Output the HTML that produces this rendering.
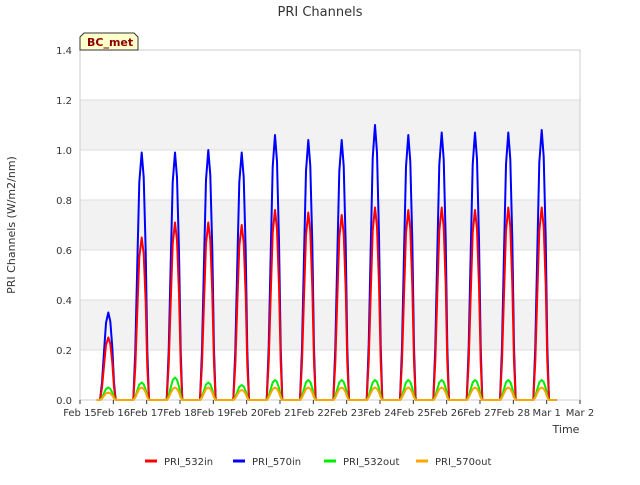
<!DOCTYPE html>
<html><head><meta charset="utf-8"><style>
body{margin:0;background:#fff;font-family:"Liberation Sans","DejaVu Sans",sans-serif}
svg text{font-family:"DejaVu Sans","Liberation Sans",sans-serif}
</style></head><body>
<svg id="c" width="640" height="480">
<text x="320" y="16" text-anchor="middle" font-size="13" fill="#333">PRI Channels</text>
<g id="bands"></g><g id="grid"></g>
<rect x="80" y="50" width="500" height="350" fill="none" stroke="#ccc"/>
<g id="series"></g><g id="axes"></g>
<text x="15" y="225" transform="rotate(-90 15 225)" text-anchor="middle" font-size="11" fill="#333">PRI Channels (W/m2/nm)</text>
<text x="566" y="433" text-anchor="middle" font-size="11" fill="#333">Time</text>
<g>
<path d="M80,50 L80,37 L84,33 L134,33 L138,37 L138,50 Z" fill="#ffffcc" stroke="#333"/>
<text x="87" y="46" font-size="11" font-weight="bold" fill="#8b0000">BC_met</text></g>
<g id="legend"></g>
</svg>
<script>
const dayLabels=["Feb 15","Feb 16","Feb 17","Feb 18","Feb 19","Feb 20","Feb 21","Feb 22","Feb 23","Feb 24","Feb 25","Feb 26","Feb 27","Feb 28","Mar 1","Mar 2"];
const yTicks=[0,0.2,0.4,0.6,0.8,1.0,1.2,1.4];
const profileT=[0.60,0.66,0.72,0.78,0.85,0.91,0.97,1.02,1.07];
const profileF=[0,0.2,0.55,0.88,1,0.9,0.6,0.2,0];
const peak570in=[0.35,0.99,0.99,1.0,0.99,1.06,1.04,1.04,1.10,1.06,1.07,1.07,1.07,1.08];
const peak532in=[0.25,0.65,0.71,0.71,0.70,0.76,0.75,0.74,0.77,0.76,0.77,0.76,0.77,0.77];
const peak532out=[0.05,0.07,0.09,0.07,0.06,0.08,0.08,0.08,0.08,0.08,0.08,0.08,0.08,0.08];
const peak570out=[0.03,0.05,0.05,0.05,0.04,0.05,0.05,0.05,0.05,0.05,0.05,0.05,0.05,0.05];
const X=d=>80+d*500/15, Y=v=>400-v*250;
const NS="http://www.w3.org/2000/svg";
function mk(t,a,p){const e=document.createElementNS(NS,t);for(const k in a)e.setAttribute(k,a[k]);p.appendChild(e);return e;}
const bands=document.getElementById('bands'),grid=document.getElementById('grid'),axes=document.getElementById('axes');
for(let i=0;i<yTicks.length-1;i++){if(i%2==1){const r=mk('rect',{x:80,y:Y(yTicks[i+1]),width:500,height:Y(yTicks[i])-Y(yTicks[i+1]),fill:'#f2f2f2'},bands);

}}
yTicks.forEach(v=>{const l=mk('line',{x1:80,x2:580,y1:Y(v),y2:Y(v),stroke:'#ddd'},grid);


const t=mk('text',{x:72,y:Y(v)+4,'text-anchor':'end','font-size':10,fill:'#333'},axes);t.textContent=v.toFixed(1);

});
dayLabels.forEach((s,i)=>{mk('line',{x1:X(i),x2:X(i),y1:400,y2:404,stroke:'#333'},axes);
const t=mk('text',{x:X(i),y:416,'text-anchor':'middle','font-size':10,fill:'#333'},axes);t.textContent=s;

});
const ser=[["PRI_532in",peak532in,"#ff0000"],["PRI_570in",peak570in,"#0000ff"],["PRI_532out",peak532out,"#00ee00"],["PRI_570out",peak570out,"#ffa500"]];
const sg=document.getElementById('series');
[1,0,2,3].forEach(si=>{const [n,pk,c]=ser[si];let d="M"+X(0.5)+","+Y(0);
pk.forEach((p,day)=>{profileT.forEach((t,j)=>{d+=" L"+X(day+t).toFixed(1)+","+Y(p*profileF[j]).toFixed(1);});});
d+=" L"+X(14.3)+","+Y(0);
const pa=mk('path',{d:d,fill:'none',stroke:c,'stroke-width':2,'stroke-linejoin':'round'},sg);

});
const lg=document.getElementById('legend');const lx=[145,233,324,416];
ser.forEach(([n,pk,c],i)=>{const g=mk('g',{},lg);


mk('line',{x1:lx[i],x2:lx[i]+12,y1:461,y2:461,stroke:c,'stroke-width':3},g);
const t=mk('text',{x:lx[i]+19,y:465,'font-size':10,fill:'#333'},g);t.textContent=n;});
</script>
</body></html>
